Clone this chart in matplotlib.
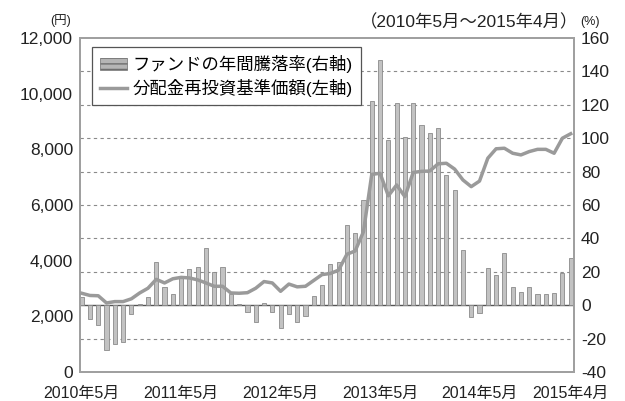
import numpy as np
import matplotlib
matplotlib.use('Agg')
import matplotlib.pyplot as plt
from matplotlib.patches import Patch
from matplotlib.lines import Line2D

plt.rcParams['font.family'] = ['Liberation Sans', 'Noto Sans CJK JP']
plt.rcParams['axes.unicode_minus'] = True

# 月 (2010年5月～2015年4月)
meses = []
for k in range(60):
    a = 2010 + (4 + k) // 12
    m = (4 + k) % 12 + 1
    meses.append(f'{a}年{m}月')

etiquetas_x = ['2010年5月', '2011年5月', '2012年5月', '2013年5月', '2014年5月', '2015年4月']

# ファンドの年間騰落率 (%), 右軸
tasa_anual = [5, -8, -12, -27, -23, -22, -5.5, 0.5, 5, 26,
              11, 6.5, 17, 21.5, 23, 34, 20, 23, 7, 0.5,
              -4, -10, 1.5, -4, -13.5, -5, -10, -6.5, 5.5, 12,
              24.5, 26, 48, 43, 63, 122, 147, 99, 121, 101,
              121, 108, 103, 106, 78, 69, 33, -7, -4.5, 22,
              18, 31, 11, 8, 11, 7, 6.5, 7.5, 19.5, 28]

# 分配金再投資基準価額 (円), 左軸
precio = [2830, 2750, 2740, 2480, 2530, 2530, 2630, 2840, 3010, 3330,
          3200, 3350, 3400, 3380, 3310, 3200, 3080, 3080, 2840, 2830,
          2850, 3010, 3250, 3200, 2900, 3160, 3060, 3080, 3290, 3500,
          3540, 3660, 4230, 4350, 5040, 7100, 7140, 6330, 6720, 6300,
          7170, 7210, 7220, 7480, 7500, 7290, 6900, 6660, 6860, 7680,
          8020, 8040, 7860, 7800, 7920, 8000, 8000, 7860, 8400, 8560]

ticks_izq = [0, 2000, 4000, 6000, 8000, 10000, 12000]
ticks_der = [-40, -20, 0, 20, 40, 60, 80, 100, 120, 140, 160]

x = np.arange(len(meses))

fig = plt.figure(figsize=(6.25, 4.01), dpi=100)
ax = fig.add_axes([0.128, 0.0723, 0.7904, 0.8329])
ax2 = ax.twinx()

# barras en el eje derecho
ax2.set_ylim(-40, 160)
for v in ticks_der[1:-1]:
    if v == 0:
        ax2.axhline(0, color='#555555', lw=1.0, zorder=1)
    else:
        ax2.axhline(v, color='#8a8a8a', lw=0.8, ls=(0, (3, 3)), zorder=1)
ax2.bar(x, tasa_anual, width=0.5, color='#c2c2c2', edgecolor='#8a8a8a', lw=0.6, zorder=2)

# linea en el eje izquierdo (se dibuja encima)
ax.set_zorder(ax2.get_zorder() + 1)
ax.patch.set_visible(False)
ax.plot(x, precio, color='#9a9a9a', lw=2.5, solid_joinstyle='round', zorder=3)
ax.set_ylim(0, 12000)
ax.set_xlim(-0.2, 59.4)

ax.set_yticks(ticks_izq)
ax.set_yticklabels([f'{v:,}' for v in ticks_izq])
ax2.set_yticks(ticks_der)
ax2.set_yticklabels([str(v) for v in ticks_der])

pos_x = [meses.index(e) for e in etiquetas_x]
ax.set_xticks(pos_x)
ax.set_xticklabels(etiquetas_x)

ax.tick_params(axis='y', length=0, pad=5, labelsize=12.5, colors='#222222')
ax.tick_params(axis='x', length=0, pad=10, labelsize=11.5, colors='#222222')
ax2.tick_params(axis='y', length=0, pad=5, labelsize=12.5, colors='#222222')

for a in (ax, ax2):
    for s in a.spines.values():
        s.set_color('#a0a0a0')
        s.set_linewidth(1.3)

# leyenda
h_barra = Patch(facecolor='#b5b5b5', edgecolor='#6e6e6e', hatch='---', lw=0.5)
h_linea = Line2D([0], [0], color='#9a9a9a', lw=2.5)
leg = ax.legend([h_barra, h_linea], ['ファンドの年間騰落率(右軸)', '分配金再投資基準価額(左軸)'],
                loc='upper left', bbox_to_anchor=(0.024, 0.973), borderaxespad=0,
                fontsize=12.5, handlelength=1.6, handletextpad=0.3, labelspacing=0.35,
                borderpad=0.45, fancybox=False, framealpha=1, edgecolor='#555555')
leg.get_frame().set_linewidth(0.9)

fig.text(0.925, 0.945, '（2010年5月～2015年4月）', ha='right', va='center', fontsize=12.5, color='#222222')
fig.text(0.928, 0.945, '(%)', ha='left', va='center', fontsize=9, color='#222222')
fig.text(0.080, 0.950, '(円)', ha='left', va='center', fontsize=9, color='#222222')

fig.savefig('out.png', dpi=100)
